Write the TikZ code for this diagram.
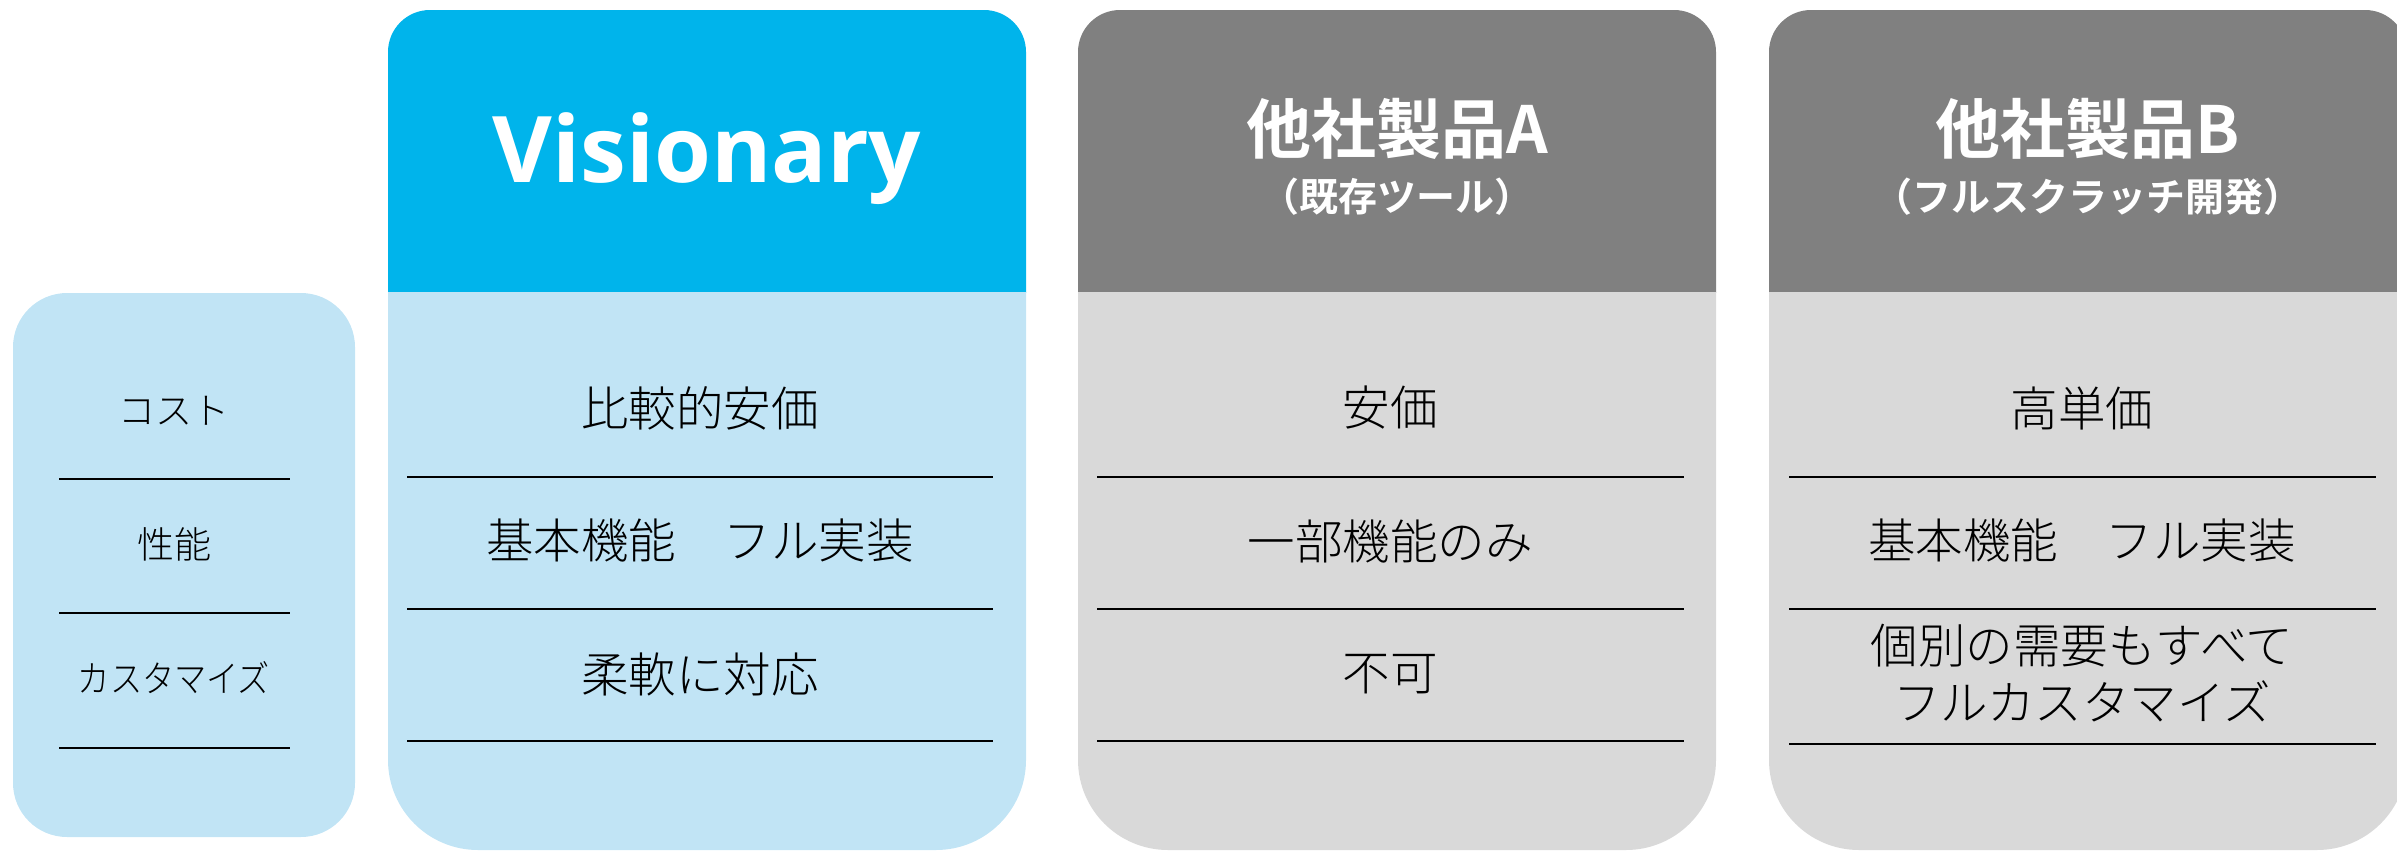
\documentclass[tikz,border=0pt]{standalone}
\usepackage{fontspec}
\setmainfont{Noto Sans CJK JP Light}
\newfontfamily\jpb{Noto Sans CJK JP Bold}
\newfontfamily\visfont{Open Sans}
\definecolor{hblue}{RGB}{0,180,235}
\definecolor{lblue}{RGB}{193,228,245}
\definecolor{hgray}{RGB}{128,128,128}
\definecolor{lgray}{RGB}{217,217,217}
\tikzset{
  cell/.style={font=\fontsize{47.5bp}{57bp}\selectfont, inner sep=0pt, align=center, text=black},
  lbl/.style={font=\fontsize{37bp}{44bp}\selectfont, inner sep=0pt, text=black},
  rule/.style={line width=2.7bp, black},
  ttl/.style={font=\jpb\fontsize{65bp}{70bp}\selectfont, text=white, inner sep=0pt},
  subttl/.style={font=\jpb\fontsize{39bp}{44bp}\selectfont, text=white, inner sep=0pt},
}
\begin{document}
\begin{tikzpicture}[x=1bp,y=-1bp]
\useasboundingbox (0,0) rectangle (2397,850);
\clip (0,0) rectangle (2397,850);
% left label box
\fill[lblue, rounded corners=54bp] (13,293) rectangle (355,837);
% columns: header (top radius 42) and body (bottom radius 90)
\foreach \L/\R/\hc/\bc in {388/1026/hblue/lblue, 1078/1716/hgray/lgray, 1769/2407/hgray/lgray}{
  \begin{scope}
    \clip (\L,0) rectangle (\R,292);
    \fill[\hc, rounded corners=42bp] (\L,10) rectangle (\R,420);
  \end{scope}
  \begin{scope}
    \clip (\L,292) rectangle (\R,900);
    \fill[\bc, rounded corners=90bp] (\L,150) rectangle (\R,850);
  \end{scope}
}
% left labels
\node[lbl] (l1) at (174,411) {コスト};
\node[lbl] (l2) at (174,544) {性能};
\node[lbl] (l3) at (174,678) {\scalebox{0.87}[1]{カスタマイズ}};
\foreach \y in {479,613,748}{\draw[rule] (59,\y) -- (290,\y);}
% Visionary column
\node[anchor=base, font=\visfont\bfseries\fontsize{92bp}{100bp}\selectfont, text=white, inner sep=0pt] (vis) at (707,182) {Visionary};
\node[cell] (v1) at (700,408) {比較的安価};
\node[cell] (v2) at (700,541) {基本機能　フル実装};
\node[cell] (v3) at (700,674) {柔軟に対応};
\foreach \y in {477,609,741}{\draw[rule] (407,\y) -- (993,\y);}
% Product A
\node[ttl] (at) at (1397,128.5) {他社製品A};
\node[subttl] (as) at (1397,197) {（既存ツール）};
\node[cell] (a1) at (1390,408) {安価};
\node[cell] (a2) at (1390,541) {一部機能のみ};
\node[cell] (a3) at (1390,674) {不可};
\foreach \y in {477,609,741}{\draw[rule] (1097,\y) -- (1684,\y);}
% Product B
\node[ttl] (bt) at (2088,128.5) {他社製品B};
\node[subttl] (bs) at (2088,197) {（フルスクラッチ開発）};
\node[cell] (b1) at (2082,408) {高単価};
\node[cell] (b2) at (2082,541) {基本機能　フル実装};
\node[cell] (b3) at (2082,673.5) {個別の需要もすべて\\フルカスタマイズ};
\foreach \y in {477,609,744}{\draw[rule] (1789,\y) -- (2376,\y);}
\end{tikzpicture}
\end{document}
